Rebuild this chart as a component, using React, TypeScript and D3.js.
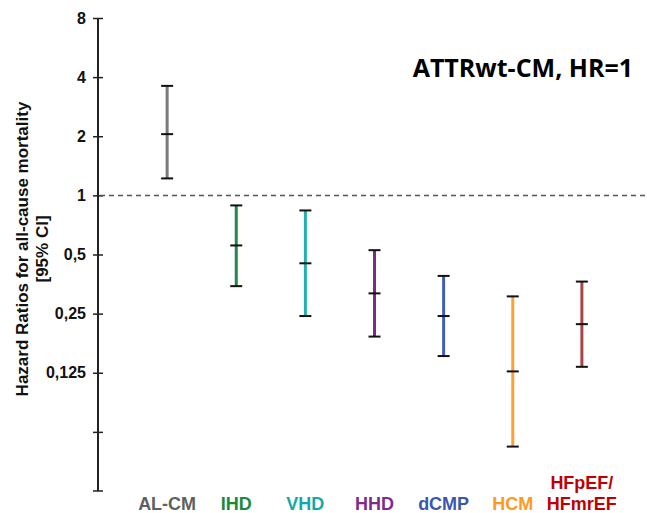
import { useEffect, useRef } from "react";
import * as d3 from "d3";

// groups and their hazard ratios (point estimate + 95% CI)
const groups = ["AL-CM", "IHD", "VHD", "HHD", "dCMP", "HCM", "HFpEF/HFmrEF"];
const hrMid = [2.05, 0.556, 0.451, 0.317, 0.243, 0.127, 0.221];
const hrLow = [1.22, 0.345, 0.243, 0.191, 0.152, 0.0526, 0.134];
const hrHigh = [3.61, 0.889, 0.838, 0.526, 0.389, 0.306, 0.364];
const barColors = ["#7a7a7a", "#1e8a46", "#22b0b0", "#7b2c82", "#4060b8", "#ffa030", "#a94444"];
const labelColors = ["#606060", "#1a8a3a", "#14a8a8", "#7b2d8e", "#3a56b0", "#ff9a1f", "#c00000"];
const labelLines = [["AL-CM"], ["IHD"], ["VHD"], ["HHD"], ["dCMP"], ["HCM"], ["HFpEF/", "HFmrEF"]];
const tickValues = [1 / 16, 0.125, 0.25, 0.5, 1, 2, 4, 8];
const tickLabels = ["", "0,125", "0,25", "0,5", "1", "2", "4", "8"];

const App = () => {
  const svgRef = useRef<SVGSVGElement>(null);

  useEffect(() => {
    const W = 647, H = 513;
    const axisX = 98, top = 18, bottom = 491;
    const font = "Arial, 'Liberation Sans', sans-serif";

    const svg = d3.select(svgRef.current);
    svg.selectAll("*").remove();
    svg.attr("width", W).attr("height", H);

    const y = d3.scaleLog().base(2).domain([1 / 32, 8]).range([bottom, top]);
    const x = d3.scalePoint<string>().domain(groups).range([axisX, 651]).padding(1);

    // y axis
    const yAxis = d3.axisLeft(y)
      .tickValues(tickValues)
      .tickFormat((d, i) => tickLabels[i])
      .tickSize(0)
      .tickPadding(12);
    const ag = svg.append("g").attr("transform", `translate(${axisX},0)`).call(yAxis);
    ag.select(".domain").remove();
    ag.append("line").attr("y1", top).attr("y2", bottom).attr("stroke", "#222").attr("stroke-width", 2);
    ag.selectAll(".tick").append("line").attr("x1", -5).attr("x2", 5).attr("stroke", "#222").attr("stroke-width", 1.5);
    ag.append("line").attr("x1", -5).attr("x2", 5).attr("y1", bottom).attr("y2", bottom).attr("stroke", "#222").attr("stroke-width", 1.5);
    ag.selectAll("text")
      .style("font-family", font)
      .style("font-weight", "bold")
      .style("font-size", "16px")
      .attr("fill", "#111");

    // y axis title
    const yt = svg.append("text")
      .attr("transform", `translate(0,249) rotate(-90)`)
      .attr("text-anchor", "middle")
      .style("font-family", font)
      .style("font-weight", "bold")
      .style("font-size", "17px")
      .attr("fill", "#111");
    yt.append("tspan").attr("x", 0).attr("y", 28).text("Hazard Ratios for all-cause mortality");
    yt.append("tspan").attr("x", 0).attr("y", 48).text("[95% CI]");

    // reference line HR = 1
    svg.append("line")
      .attr("x1", axisX + 2).attr("x2", W)
      .attr("y1", y(1)).attr("y2", y(1))
      .attr("stroke", "#555").attr("stroke-width", 1.5)
      .attr("stroke-dasharray", "5,4");

    // error bars
    groups.forEach((g, i) => {
      const cx = x(g)!;
      svg.append("line")
        .attr("x1", cx).attr("x2", cx)
        .attr("y1", y(hrLow[i])).attr("y2", y(hrHigh[i]))
        .attr("stroke", barColors[i]).attr("stroke-width", 3);
      [hrLow[i], hrMid[i], hrHigh[i]].forEach(v => {
        svg.append("line")
          .attr("x1", cx - 6).attr("x2", cx + 6)
          .attr("y1", y(v)).attr("y2", y(v))
          .attr("stroke", "#111").attr("stroke-width", 2);
      });

      // category label
      const lines = labelLines[i];
      lines.forEach((t, j) => {
        svg.append("text")
          .attr("x", cx)
          .attr("y", 510 - (lines.length - 1 - j) * 21)
          .attr("text-anchor", "middle")
          .style("font-family", font)
          .style("font-weight", "bold")
          .style("font-size", "18px")
          .attr("fill", labelColors[i])
          .text(t);
      });
    });

    // title
    svg.append("text")
      .attr("x", 633).attr("y", 77)
      .attr("text-anchor", "end")
      .style("font-family", "'Open Sans', sans-serif")
      .style("font-weight", "bold")
      .style("font-size", "25px")
      .attr("fill", "#000")
      .text("ATTRwt-CM, HR=1");
  }, []);

  return <svg ref={svgRef} style={{ position: "absolute", left: 0, top: 0 }}></svg>;
};

export default App;
